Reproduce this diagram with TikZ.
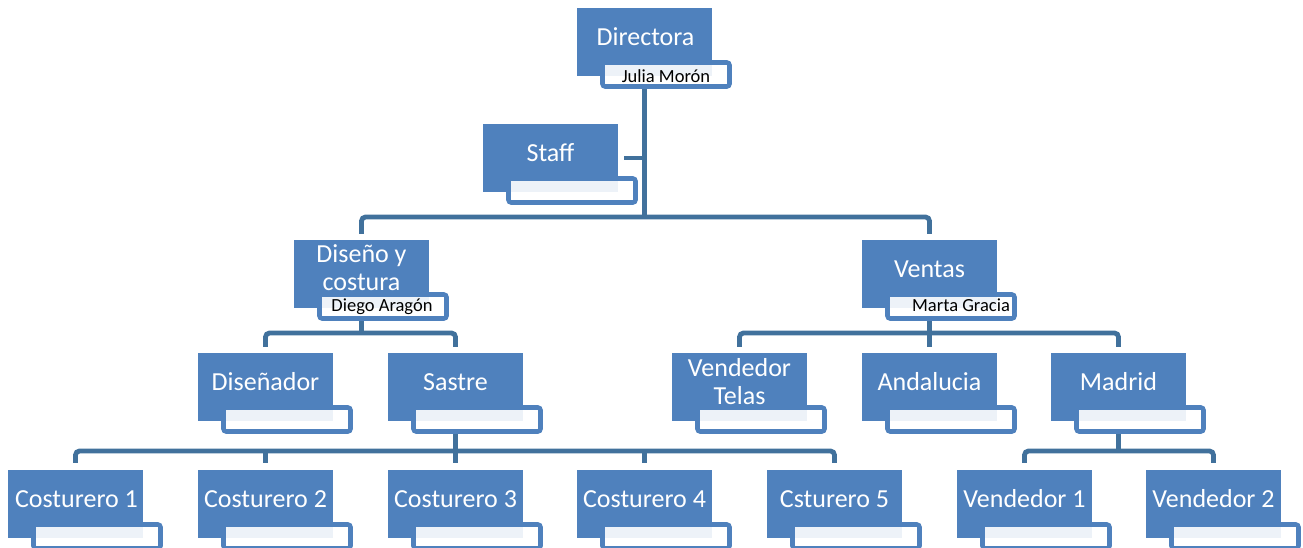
\documentclass[tikz,border=0pt]{standalone}
\usepackage{fontspec}
\setmainfont{Carlito}
\usetikzlibrary{backgrounds}
\definecolor{boxblue}{HTML}{4F81BD}
\definecolor{linkblue}{HTML}{41719C}
\tikzset{
 bluebox/.style={fill=boxblue, draw=none, minimum width=135pt, minimum height=68pt, inner sep=0pt},
 subframe/.style={draw=boxblue, line width=4.8pt, rounded corners=3pt, fill=white},
 subfill/.style={fill=white, fill opacity=0.9},
 conn/.style={draw=linkblue, line width=4.8pt, rounded corners=4pt},
 btxt/.style={text=white, font=\fontsize{26}{28}\selectfont, anchor=base, inner sep=0pt},
 stxt/.style={text=black, font=\fontsize{18.5}{20}\selectfont, anchor=base, inner sep=0pt},
}
\newcommand{\orgbox}[3]{%
  \draw[subframe] ({#2+25.5},{#3+54.5}) rectangle ({#2+152.5},{#3+78.5});
  \node[bluebox] (#1) at ({#2+67.5},{#3+34}) {};
  \fill[subfill] ({#2+27.9},{#3+56.9}) rectangle ({#2+150.1},{#3+76.1});
}
\begin{document}
\begin{tikzpicture}[x=1pt,y=-1pt]
\useasboundingbox (0,0) rectangle (1303,547);
% boxes
\orgbox{dir}{577}{8}
\orgbox{staff}{483}{124}
\orgbox{dise}{294}{240}
\orgbox{vent}{862}{240}
\orgbox{disr}{198}{353}
\orgbox{sas}{388}{353}
\orgbox{vt}{672}{353}
\orgbox{anda}{862}{353}
\orgbox{mad}{1051}{353}
\orgbox{c1}{8}{470}
\orgbox{c2}{198}{470}
\orgbox{c3}{388}{470}
\orgbox{c4}{577}{470}
\orgbox{c5}{767}{470}
\orgbox{v1}{957}{470}
\orgbox{v2}{1146}{470}
% texts
\node[btxt] (t-dir) at (645.5,45.5) {Directora};
\node[stxt] (s-dir) at (666,82) {Julia Morón};
\node[btxt] (t-staff) at (550.5,161.5) {Staff};
\node[btxt] (t-dise1) at (361.5,262) {Diseño y};
\node[btxt] (t-dise2) at (361.5,290) {costura};
\node[stxt] (s-dise) at (382,311) {Diego Aragón};
\node[btxt] (t-vent) at (929.5,277.5) {Ventas};
\node[stxt] (s-vent) at (961,311) {Marta Gracia};
\node[btxt] (t-disr) at (265.5,390.5) {Diseñador};
\node[btxt] (t-sas) at (455.5,390.5) {Sastre};
\node[btxt] (t-vt1) at (739.5,376) {Vendedor};
\node[btxt] (t-vt2) at (739.5,404) {Telas};
\node[btxt] (t-anda) at (929.5,390.5) {Andalucia};
\node[btxt] (t-mad) at (1118.5,390.5) {Madrid};
\node[btxt] (t-c1) at (76.5,507.5) {Costurero 1};
\node[btxt] (t-c2) at (265.5,507.5) {Costurero 2};
\node[btxt] (t-c3) at (455.5,507.5) {Costurero 3};
\node[btxt] (t-c4) at (644.5,507.5) {Costurero 4};
\node[btxt] (t-c5) at (834.5,507.5) {Csturero 5};
\node[btxt] (t-v1) at (1024.5,507.5) {Vendedor 1};
\node[btxt] (t-v2) at (1213.5,507.5) {Vendedor 2};
% connectors
\coordinate (bus1) at (0,217);
\coordinate (bus2) at (0,333);
\coordinate (bus3) at (0,451);
\begin{pgfonlayer}{background}
\draw[conn] (dir.south) -- (dir.south |- bus1);
\draw[conn] ([xshift=6pt]staff.east) -- (dir.south |- staff.east);
\draw[conn] ([yshift=6pt]dise.north) -- (dise.north |- bus1) -- (vent.north |- bus1) -- ([yshift=6pt]vent.north);
\draw[conn] (dise.south) -- (dise.south |- bus2);
\draw[conn] ([yshift=6pt]disr.north) -- (disr.north |- bus2) -- (sas.north |- bus2) -- ([yshift=6pt]sas.north);
\draw[conn] (vent.south) -- (vent.south |- bus2);
\draw[conn] ([yshift=6pt]vt.north) -- (vt.north |- bus2) -- (mad.north |- bus2) -- ([yshift=6pt]mad.north);
\draw[conn] ([yshift=6pt]anda.north) -- (anda.north |- bus2);
\draw[conn] (sas.south) -- (sas.south |- bus3);
\draw[conn] ([yshift=7pt]c1.north) -- (c1.north |- bus3) -- (c5.north |- bus3) -- ([yshift=7pt]c5.north);
\draw[conn] ([yshift=7pt]c2.north) -- (c2.north |- bus3);
\draw[conn] ([yshift=7pt]c3.north) -- (c3.north |- bus3);
\draw[conn] ([yshift=7pt]c4.north) -- (c4.north |- bus3);
\draw[conn] (mad.south) -- (mad.south |- bus3);
\draw[conn] ([yshift=7pt]v1.north) -- (v1.north |- bus3) -- (v2.north |- bus3) -- ([yshift=7pt]v2.north);
\end{pgfonlayer}
\end{tikzpicture}
\end{document}
